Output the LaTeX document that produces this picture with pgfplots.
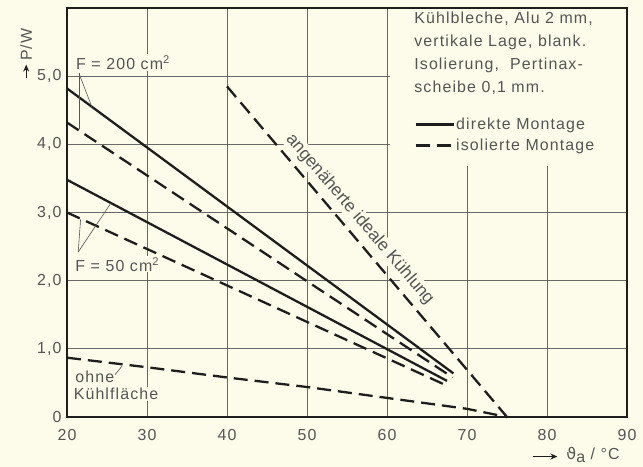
\documentclass[border=0pt]{standalone}
\usepackage{pgfplots}
\pgfplotsset{compat=1.18}
\usetikzlibrary{arrows.meta}
\usepackage{fontspec}
\setmainfont[LetterSpace=7]{Liberation Sans}
\newfontfamily\plainlib{Liberation Sans}
\newfontfamily\dejavu{DejaVu Sans}
\definecolor{bg}{RGB}{253,252,234}
\definecolor{ink}{RGB}{30,30,30}
\definecolor{txt}{RGB}{85,85,85}
\definecolor{gridc}{RGB}{105,105,105}
\newcommand{\lf}{\fontsize{16}{23}\selectfont}
\begin{document}
\begin{tikzpicture}
\fill[bg] (-67bp,-50bp) rectangle (576bp,417bp);
\begin{axis}[
  at={(0,0)}, anchor=south west,
  scale only axis, width=560bp, height=409bp,
  xmin=20, xmax=90, ymin=0, ymax=6,
  xtick={20,30,40,50,60,70,80,90},
  ytick={0,1,2,3,4,5},
  xticklabels={20,30,40,50,60,70,80,90},
  yticklabels={0,{1,0},{2,0},{3,0},{4,0},{5,0}},
  tick label style={font=\lf, text=txt},
  xticklabel style={yshift=-9bp},
  yticklabel style={xshift=-2bp},
  major tick length=0pt,
  grid=major,
  grid style={gridc, line width=0.9bp},
  axis line style={ink, line width=1.6bp},
  clip=false,
  curve/.style={ink, line width=2.3bp},
  dsh/.style={ink, line width=2.3bp, dash pattern=on 14bp off 7bp},
  legend style={at={(axis cs:63.4,4.41)}, anchor=north west, draw=none, fill=none,
    inner sep=0pt, row sep=5bp, font=\lf, text=txt,
    nodes={inner sep=1.5bp}},
  legend cell align=left,
  legend image code/.code={\draw[#1] (0bp,0bp) -- (38bp,0bp);},
]
% cleared area behind the explanation box
\fill[bg] (axis cs:60.4,3.68) rectangle (axis cs:89.88,5.98);
\node[anchor=north west, align=left, text=txt, font=\lf, inner sep=0pt]
  at (axis cs:63.4,5.94)
  {Kühlbleche, Alu 2 mm,\\vertikale Lage, blank.\\Isolierung,\ \ Pertinax-\\scheibe 0,1 mm.};

% F = 200 cm^2
\addplot[curve] coordinates {(20,4.82) (68.3,0.64)};
\addlegendentry{direkte Montage}
\addplot[dsh] coordinates {(20,4.32) (68.2,0.58)};
\addlegendentry{isolierte Montage}
% F = 50 cm^2
\addplot[curve, forget plot] coordinates {(20,3.48) (67.5,0.53)};
\addplot[dsh, forget plot] coordinates {(20,3.00) (67.3,0.47)};
% ohne Kuehlflaeche
\addplot[dsh, forget plot] coordinates {(20,0.87) (30,0.73) (40,0.58) (50,0.44) (60,0.28) (70,0.12) (75,0.0)};
% angenaeherte ideale Kuehlung
\addplot[dsh, forget plot] coordinates {(40,4.85) (75,0.0)};

% annotations
\node[anchor=west, text=txt, font=\lf, inner sep=1bp, fill=bg] at (axis cs:21.0,5.2) {F = 200 cm\textsuperscript{2}};
\draw[txt, line width=0.6bp] (axis cs:21.5,5.04) -- (axis cs:21.5,4.22);
\draw[txt, line width=0.6bp] (axis cs:21.5,5.04) -- (axis cs:23.1,4.55);

\node[anchor=west, text=txt, font=\lf, inner sep=1bp, fill=bg] at (axis cs:20.9,2.24) {F = 50 cm\textsuperscript{2}};
\draw[txt, line width=0.6bp] (axis cs:21.4,2.42) -- (axis cs:21.7,2.90);
\draw[txt, line width=0.6bp] (axis cs:21.4,2.42) -- (axis cs:25.5,3.14);

\node[anchor=west, text=txt, font=\lf, inner sep=1bp, fill=bg] at (axis cs:20.9,0.59) {ohne};
\node[anchor=west, text=txt, font=\lf, inner sep=1bp, fill=bg] at (axis cs:20.7,0.34) {Kühlfläche};
\draw[txt, line width=0.6bp] (axis cs:26.0,0.62) -- (axis cs:26.9,0.75);

\node[rotate=-49.5, text=txt, font={\plainlib\fontsize{17.5}{20}\selectfont}, inner sep=1bp, fill=bg] at (axis cs:56.6,2.90) {angenäherte ideale Kühlung};

% axis labels
\draw[ink, line width=1bp, -{Stealth[length=7bp,width=6bp]}] (axis cs:78.3,-0.58) -- (axis cs:81.3,-0.58);
\node[anchor=west, text=txt, font=\lf, inner sep=0pt] at (axis cs:82.4,-0.56) {{\dejavu ϑ}\raisebox{-3bp}{a} / °C};
\draw[ink, line width=1bp, -{Stealth[length=7bp,width=6bp]}] (axis cs:14.9,4.98) -- (axis cs:14.9,5.17);
\node[rotate=90, anchor=west, text=txt, font=\lf, inner sep=0pt] at (axis cs:14.9,5.22) {P/W};
\end{axis}
\end{tikzpicture}
\end{document}
